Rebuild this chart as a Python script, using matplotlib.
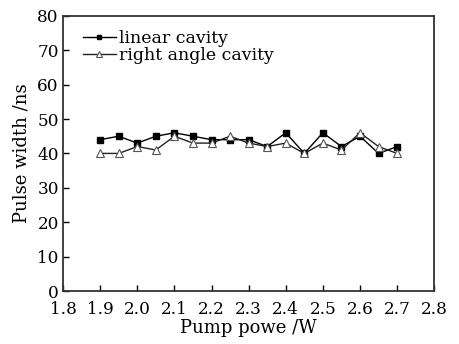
import matplotlib.pyplot as plt

# pump power (W)
power = [1.9, 1.95, 2.0, 2.05, 2.1, 2.15, 2.2, 2.25, 2.3, 2.35,
         2.4, 2.45, 2.5, 2.55, 2.6, 2.65, 2.7]
linear_cavity = [44, 45, 43, 45, 46, 45, 44, 44, 44, 42,
                 46, 40, 46, 42, 45, 40, 42]
right_angle_cavity = [40, 40, 42, 41, 45, 43, 43, 45, 43, 42,
                      43, 40, 43, 41, 46, 42, 40]

x_ticks = [1.8, 1.9, 2.0, 2.1, 2.2, 2.3, 2.4, 2.5, 2.6, 2.7, 2.8]
y_ticks = [0, 10, 20, 30, 40, 50, 60, 70, 80]

plt.rcParams['font.family'] = ['DejaVu Serif']

fig = plt.figure(figsize=(4.6, 3.44), dpi=100)
ax = fig.add_axes([0.137, 0.154, 0.807, 0.8])

ax.plot(power, linear_cavity, color='black', lw=1.0, marker='s', ms=5,
        mfc='black', mec='black', label='linear cavity')
ax.plot(power, right_angle_cavity, color='#222222', lw=1.0, marker='^', ms=6,
        mfc='white', mec='#555555', mew=0.8, label='right angle cavity')

ax.set_xlim(1.8, 2.8)
ax.set_ylim(0, 80)
ax.set_xticks(x_ticks)
ax.set_xticklabels([f'{v:.1f}' for v in x_ticks])
ax.set_yticks(y_ticks)
ax.tick_params(direction='in', length=4, width=1, labelsize=12.2)
ax.tick_params(axis='x', pad=7)
ax.tick_params(axis='y', pad=3)
for s in ax.spines.values():
    s.set_linewidth(1.3)
    s.set_color('#333333')

ax.set_xlabel('Pump powe /W', fontsize=13, labelpad=1)
ax.set_ylabel('Pulse width /ns', fontsize=13, labelpad=5)

ax.legend(loc='upper left', frameon=False, fontsize=12.5, handlelength=1.9,
          handletextpad=0.2, borderaxespad=0.0, labelspacing=0.0,
          markerscale=0.7, bbox_to_anchor=(0.035, 0.975))

fig.savefig('out.png', dpi=100)
